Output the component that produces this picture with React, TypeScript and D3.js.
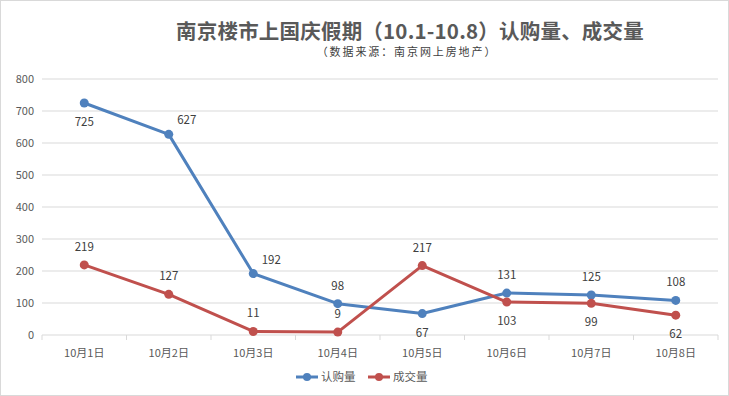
import React from "react";
import * as d3 from "d3";

const categories = ["10月1日", "10月2日", "10月3日", "10月4日", "10月5日", "10月6日", "10月7日", "10月8日"];
const subscribe = [725, 627, 192, 98, 67, 131, 125, 108];
const deals = [219, 127, 11, 9, 217, 103, 99, 62];
const subscribePlace = ["b", "r", "r", "a", "b", "a", "a", "a"];
const dealsPlace = ["a", "a", "a", "a", "a", "b", "b", "b"];
const yTicks = [0, 100, 200, 300, 400, 500, 600, 700, 800];
const seriesNames = ["认购量", "成交量"];

const W = 729, H = 396;
const M = { left: 42, right: 11, top: 79, bottom: 61 };
const FONT = "'Noto Sans CJK SC', 'Noto Sans', sans-serif";
const BLUE = "#4F81BD", RED = "#C0504D";

export default function App() {
  const x = d3.scaleBand().domain(categories).range([M.left, W - M.right]);
  const y = d3.scaleLinear().domain([0, 800]).range([H - M.bottom, M.top]);
  const cx = (c: string) => (x(c) as number) + x.bandwidth() / 2;
  const line = d3.line<number>().x((_, i) => cx(categories[i])).y((v) => y(v));

  const series = [
    { name: seriesNames[0], vals: subscribe, place: subscribePlace, color: BLUE },
    { name: seriesNames[1], vals: deals, place: dealsPlace, color: RED },
  ];

  const labelPos = (p: string, px: number, py: number) => {
    if (p === "b") return [px, py + 23];
    if (p === "r") return [px + 18, py - 10];
    return [px, py - 14];
  };

  const ticksX = categories.map((c) => x(c) as number).concat([W - M.right]);

  return (
    <div style={{ position: "fixed", left: 0, top: 0 }}>
      <svg width={W} height={H} style={{ display: "block", fontFamily: FONT }}>
        <rect x={0.5} y={0.5} width={W - 1} height={H - 1} fill="#fff" stroke="#D9D9D9" />
        <text x={410} y={38.5} textAnchor="middle" fontSize={20.5} fontWeight="bold" fill="#595959" letterSpacing={0.2}>
          南京楼市上国庆假期（10.1-10.8）认购量、成交量
        </text>
        <text x={407} y={56} textAnchor="middle" fontSize={11} fill="#404040" letterSpacing={1.9}>
          （数据来源：南京网上房地产）
        </text>
        {yTicks.map((t) => (
          <g key={t}>
            {t > 0 && (
              <line x1={M.left} x2={W - M.right} y1={y(t)} y2={y(t)} stroke="#D9D9D9" strokeWidth={1} />
            )}
            <text x={34} y={y(t) + 4} textAnchor="end" fontSize={11} fill="#595959">
              {t}
            </text>
          </g>
        ))}
        <line x1={M.left} x2={W - M.right} y1={y(0)} y2={y(0)} stroke="#D9D9D9" />
        {ticksX.map((tx, i) => (
          <line key={i} x1={tx} x2={tx} y1={y(0)} y2={y(0) + 5} stroke="#D9D9D9" />
        ))}
        {categories.map((c) => (
          <text key={c} x={cx(c)} y={y(0) + 22} textAnchor="middle" fontSize={11} fill="#595959">
            {c}
          </text>
        ))}
        {series.map((s) => (
          <g key={s.name}>
            <path d={line(s.vals) as string} fill="none" stroke={s.color} strokeWidth={3} strokeLinejoin="round" strokeLinecap="round" />
            {s.vals.map((v, i) => (
              <circle key={i} cx={cx(categories[i])} cy={y(v)} r={4.5} fill={s.color} />
            ))}
          </g>
        ))}
        {series.map((s) =>
          s.vals.map((v, i) => {
            const [lx, ly] = labelPos(s.place[i], cx(categories[i]), y(v));
            return (
              <text key={s.name + i} x={lx} y={ly} textAnchor="middle" fontSize={11.5} fill="#404040">
                {v}
              </text>
            );
          })
        )}
        {series.map((s, i) => {
          const lx = 296 + i * 72;
          return (
            <g key={s.name}>
              <line x1={lx} x2={lx + 22} y1={377} y2={377} stroke={s.color} strokeWidth={3} />
              <circle cx={lx + 11} cy={377} r={4} fill={s.color} />
              <text x={lx + 25} y={381} fontSize={11.5} fill="#595959">
                {s.name}
              </text>
            </g>
          );
        })}
      </svg>
    </div>
  );
}
